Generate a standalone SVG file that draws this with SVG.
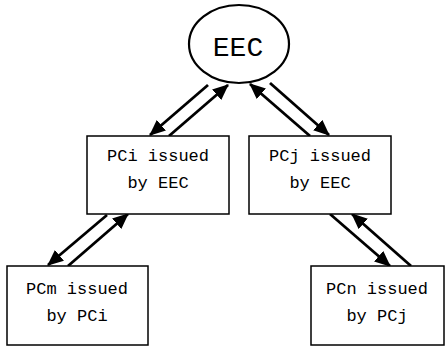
<svg xmlns="http://www.w3.org/2000/svg" width="446" height="347" viewBox="0 0 446 347">
<style>
.box{fill:#fff;stroke:#000;stroke-width:1.5}
.ell{fill:#fff;stroke:#000;stroke-width:2.2}
.t{font-family:"Liberation Mono","Courier New",monospace;font-size:17px;text-anchor:middle;fill:#000}
.big{font-size:28px}
.c{stroke:#000;stroke-width:2.8;fill:none;marker-end:url(#ah)}
</style>
<defs>
<marker id="ah" markerUnits="userSpaceOnUse" markerWidth="16" markerHeight="14" viewBox="0 0 16 14" refX="15" refY="7" orient="auto">
<path d="M0,0 L16,7 L0,14 z" fill="#000"/>
</marker>
</defs>
<g id="connectors">
<line class="c" x1="208" y1="85" x2="150" y2="135"/>
<line class="c" x1="169" y1="136" x2="228" y2="85"/>
<line class="c" x1="310" y1="136" x2="250" y2="84"/>
<line class="c" x1="270" y1="83" x2="329" y2="135"/>
<line class="c" x1="107" y1="215" x2="48" y2="265"/>
<line class="c" x1="68" y1="266" x2="128" y2="214"/>
<line class="c" x1="330" y1="214" x2="390" y2="266"/>
<line class="c" x1="411" y1="266" x2="352" y2="214"/>
</g>
<g id="EEC">
<ellipse class="ell" cx="239" cy="44" rx="50" ry="39"/>
<text class="t big" x="238" y="56">EEC</text>
</g>
<g id="PCi">
<rect class="box" x="87" y="136" width="142" height="78"/>
<text class="t" x="158" y="161">PCi issued</text>
<text class="t" x="158" y="188">by EEC</text>
</g>
<g id="PCj">
<rect class="box" x="249" y="136" width="142" height="78"/>
<text class="t" x="320" y="161">PCj issued</text>
<text class="t" x="320" y="188">by EEC</text>
</g>
<g id="PCm">
<rect class="box" x="7" y="266" width="141" height="79"/>
<text class="t" x="77" y="294">PCm issued</text>
<text class="t" x="77" y="321">by PCi</text>
</g>
<g id="PCn">
<rect class="box" x="311" y="266" width="133" height="79"/>
<text class="t" x="377" y="294">PCn issued</text>
<text class="t" x="377" y="321">by PCj</text>
</g>
</svg>
